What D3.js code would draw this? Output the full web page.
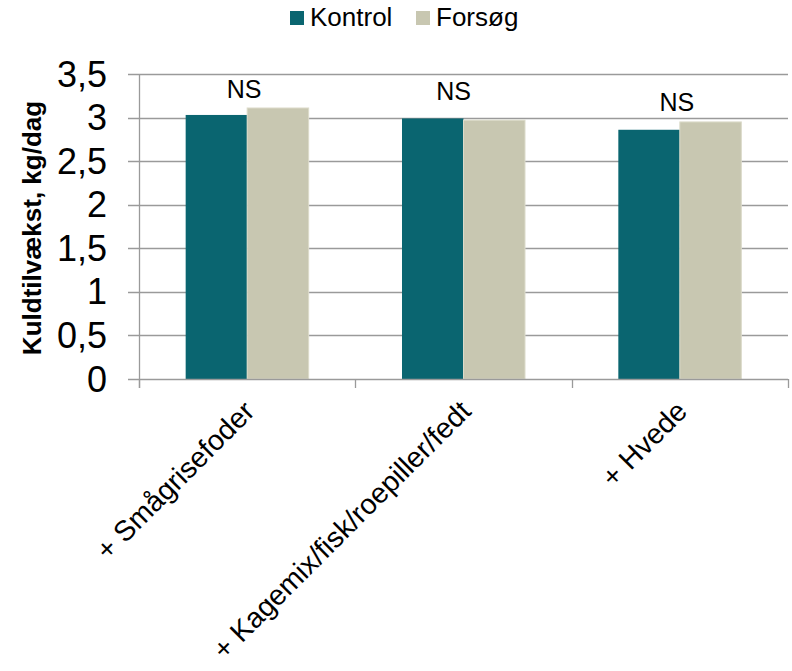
<!DOCTYPE html>
<html>
<head>
<meta charset="utf-8">
<script src="https://cdn.jsdelivr.net/npm/d3@7"></script>
<style>
  html, body { margin: 0; padding: 0; background: #fff; }
  svg { display: block; font-family: "Liberation Sans", Arial, Helvetica, sans-serif; }
</style>
</head>
<body>
<svg id="chart" width="792" height="671"></svg>
<script>
// Feeding groups and the two treatments
const categories = ["+ Smågrisefoder", "+ Kagemix/fisk/roepiller/fedt", "+ Hvede"];
const seriesNames = ["Kontrol", "Forsøg"];
const kontrol = [3.03, 2.99, 2.86];
const forsog = [3.11, 2.97, 2.95];
const yTicks = [0, 0.5, 1, 1.5, 2, 2.5, 3, 3.5];
const yTitle = "Kuldtilvækst, kg/dag";
// Significance notes above each group, with the level they sit at
const sigLabels = ["NS", "NS", "NS"];
const sigLevels = [3.22, 3.20, 3.07];

const colors = { "Kontrol": "#0a6570", "Forsøg": "#c8c7b1" };
const gridColor = "#9a9a9a";
const fmt = v => String(v).replace(".", ",");

const svg = d3.select("#chart");
const plot = { left: 139, right: 788, top: 74, bottom: 379 };

const x0 = d3.scaleBand()
  .domain(categories)
  .range([plot.left, plot.right])
  .paddingInner(0.4314)
  .paddingOuter(0.2157);

const x1 = d3.scaleBand()
  .domain(seriesNames)
  .range([0, x0.bandwidth()]);

const y = d3.scaleLinear()
  .domain([0, 3.5])
  .range([plot.bottom, plot.top]);

const rows = categories.map((c, i) => ({
  category: c,
  values: [
    { series: "Kontrol", value: kontrol[i] },
    { series: "Forsøg", value: forsog[i] }
  ]
}));

// Horizontal gridlines, including the small ticks left of the axis
svg.append("g")
  .selectAll("line")
  .data(yTicks.filter(t => t > 0))
  .join("line")
  .attr("x1", plot.left - 11)
  .attr("x2", plot.right)
  .attr("y1", d => Math.round(y(d)) + 0.5)
  .attr("y2", d => Math.round(y(d)) + 0.5)
  .attr("stroke", gridColor)
  .attr("stroke-width", 1.3);

// Y tick labels
svg.append("g")
  .selectAll("text")
  .data(yTicks)
  .join("text")
  .attr("x", 107)
  .attr("y", d => y(d))
  .attr("dy", "0.35em")
  .attr("text-anchor", "end")
  .attr("font-size", 36)
  .attr("fill", "#000")
  .text(fmt);

// Y axis title
svg.append("text")
  .attr("transform", `translate(41, 228) rotate(-90)`)
  .attr("text-anchor", "middle")
  .attr("font-size", 26)
  .attr("font-weight", "bold")
  .attr("fill", "#000")
  .text(yTitle);

// Bars
const groups = svg.append("g")
  .selectAll("g")
  .data(rows)
  .join("g")
  .attr("transform", d => `translate(${x0(d.category)},0)`);

groups.selectAll("rect")
  .data(d => d.values)
  .join("rect")
  .attr("x", d => x1(d.series))
  .attr("y", d => y(d.value))
  .attr("width", x1.bandwidth())
  .attr("height", d => y(0) - y(d.value))
  .attr("fill", d => colors[d.series])
  .attr("stroke", d => d.series === "Forsøg" ? "#dcdbca" : "none")
  .attr("stroke-width", 1);

// Axis lines
svg.append("line")
  .attr("x1", plot.left + 0.5).attr("x2", plot.left + 0.5)
  .attr("y1", plot.top).attr("y2", plot.bottom + 9)
  .attr("stroke", gridColor).attr("stroke-width", 1.3);

svg.append("line")
  .attr("x1", plot.left - 11).attr("x2", plot.right)
  .attr("y1", plot.bottom + 0.5).attr("y2", plot.bottom + 0.5)
  .attr("stroke", gridColor).attr("stroke-width", 1.3);

// Category boundary ticks on the x axis
const step = x0.step();
svg.append("g")
  .selectAll("line")
  .data(d3.range(categories.length + 1))
  .join("line")
  .attr("x1", i => Math.round(plot.left + i * step) + 0.5)
  .attr("x2", i => Math.round(plot.left + i * step) + 0.5)
  .attr("y1", plot.bottom)
  .attr("y2", plot.bottom + 9)
  .attr("stroke", gridColor)
  .attr("stroke-width", 1.3);

// Rotated category labels
svg.append("g")
  .selectAll("text")
  .data(categories)
  .join("text")
  .attr("transform", d => `translate(${x0(d) + x0.bandwidth() / 2 + 9}, 413) rotate(-45)`)
  .attr("text-anchor", "end")
  .attr("font-size", 28.5)
  .attr("fill", "#000")
  .text(d => d);

// Significance notes
const sigOffsets = [-3, -10, -3];
svg.append("g")
  .selectAll("text")
  .data(sigLabels)
  .join("text")
  .attr("x", (d, i) => x0(categories[i]) + x0.bandwidth() / 2 + sigOffsets[i])
  .attr("y", (d, i) => y(sigLevels[i]))
  .attr("text-anchor", "middle")
  .attr("font-size", 25)
  .attr("fill", "#000")
  .text(d => d);

// Legend
const legendPos = [{ sx: 290, tx: 310 }, { sx: 416, tx: 436 }];
const legend = svg.append("g")
  .selectAll("g")
  .data(seriesNames)
  .join("g");
legend.append("rect")
  .attr("x", (d, i) => legendPos[i].sx)
  .attr("y", 11)
  .attr("width", 14)
  .attr("height", 14)
  .attr("fill", d => colors[d]);
legend.append("text")
  .attr("x", (d, i) => legendPos[i].tx)
  .attr("y", 26)
  .attr("font-size", 26)
  .attr("fill", "#000")
  .text(d => d);
</script>
</body>
</html>
